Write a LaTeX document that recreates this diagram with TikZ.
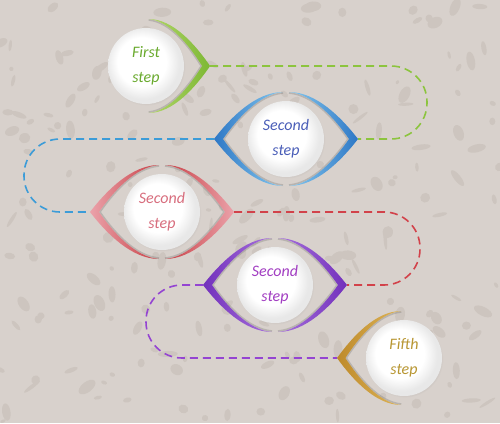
\documentclass[tikz,border=0pt]{standalone}
\usepackage{fontspec}
\setmainfont{Carlito}
\usetikzlibrary{shadows}

\definecolor{paper}{HTML}{D8D1CC}
\definecolor{speck}{HTML}{CDC5BF}
\definecolor{greenlight}{HTML}{B2D66A}
\definecolor{greendark}{HTML}{7DB834}
\definecolor{greenline}{HTML}{8CC43E}
\definecolor{greentext}{HTML}{6AAA2E}
\definecolor{bluelight}{HTML}{86C8EE}
\definecolor{bluedark}{HTML}{2E78C6}
\definecolor{blueline}{HTML}{3C9CD8}
\definecolor{bluetext}{HTML}{4A5EB8}
\definecolor{redlight}{HTML}{EBA2AA}
\definecolor{reddark}{HTML}{C84046}
\definecolor{redline}{HTML}{D2424A}
\definecolor{redtext}{HTML}{D86E7E}
\definecolor{purplelight}{HTML}{A872DC}
\definecolor{purpledark}{HTML}{7230BC}
\definecolor{purpleline}{HTML}{9444D2}
\definecolor{purpletext}{HTML}{A23EC2}
\definecolor{goldlight}{HTML}{DDB458}
\definecolor{golddark}{HTML}{BE8A2A}
\definecolor{goldtext}{HTML}{B89632}

\pgfdeclareradialshading{ball}{\pgfpoint{-4bp}{4bp}}{%
  color(0bp)=(white); color(16bp)=(white); color(24bp)=(black!9); color(50bp)=(black!9)}

\tikzset{
  stepball/.style={circle, minimum size=76pt, inner sep=0pt, align=center,
    shading=ball,
    circular drop shadow={shadow xshift=.8pt, shadow yshift=-1.2pt, opacity=.22, shadow scale=1.01},
    font=\itshape\fontsize{16}{25}\selectfont},
  link/.style={line width=1.6pt, dash pattern=on 8pt off 5pt, rounded corners=36pt},
  eyeshadow/.style={line width=1.6pt, black!60, opacity=.28},
}

% one half of an eye: centre, xscale (sign = side), left colour, right colour
\newcommand{\halfeye}[4]{%
  \begin{scope}[shift={(#1)}, xscale=#2]
    \draw[eyeshadow] (3,-46) .. controls (27,-44) and (48,-20) .. (62,0)
      .. controls (48,20) and (27,44) .. (3,46);
    \shade[left color=#3, right color=#4] (3,-47) .. controls (30,-47) and (55,-22) .. (72,0)
      .. controls (55,22) and (30,47) .. (3,47)
      .. controls (27,45) and (49,20) .. (63,0)
      .. controls (49,-20) and (27,-45) .. cycle;
  \end{scope}}

\begin{document}
\begin{tikzpicture}[x=1pt, y=-1pt]
  \useasboundingbox (0,0) rectangle (500,423);
  \fill[paper] (0,0) rectangle (500,423);

  % speckled paper
  \pgfmathsetseed{11}
  \foreach \i in {1,...,220}{
    \pgfmathsetmacro{\sx}{rnd*500}
    \pgfmathsetmacro{\sy}{rnd*423}
    \pgfmathsetmacro{\sa}{2+rnd*8}
    \pgfmathsetmacro{\sb}{1.5+rnd*4}
    \pgfmathsetmacro{\sr}{rnd*180}
    \fill[speck, rotate around={\sr:(\sx,\sy)}] (\sx,\sy) ellipse ({\sa pt} and {\sb pt});
  }

  % centres and tips
  \coordinate (c1) at (146,66);
  \coordinate (c2) at (286,139);
  \coordinate (c3) at (162,212);
  \coordinate (c4) at (275,285);
  \coordinate (c5) at (404,358);
  \coordinate (r1) at (210,66);
  \coordinate (l2) at (214,139); \coordinate (r2) at (358,139);
  \coordinate (l3) at (90,212);  \coordinate (r3) at (234,212);
  \coordinate (l4) at (203,285); \coordinate (r4) at (347,285);
  \coordinate (l5) at (337,358);

  % dashed links
  \draw[link, greenline] (r1) -- ++(217,0) |- (r2);
  \draw[link, blueline] (l2) -- ++(-190,0) |- (l3);
  \draw[link, redline] (r3) -- ++(186,0) |- (r4);
  \draw[link, purpleline] (l4) -- ++(-57,0) |- (l5);

  % eyes
  \halfeye{c1}{0.89}{greenlight}{greendark}
  \halfeye{c2}{-1}{bluedark}{bluelight}
  \halfeye{c2}{1}{bluelight}{bluedark}
  \halfeye{c3}{-1}{redlight}{reddark}
  \halfeye{c3}{1}{reddark}{redlight}
  \halfeye{c4}{-1}{purpledark}{purplelight}
  \halfeye{c4}{1}{purplelight}{purpledark}
  \halfeye{c5}{-0.93}{golddark}{goldlight}

  % steps
  \node[stepball, text=greentext] (first) at (c1) {First\\step};
  \node[stepball, text=bluetext] (second) at (c2) {Second\\step};
  \node[stepball, text=redtext] (third) at (c3) {Second\\step};
  \node[stepball, text=purpletext] (fourth) at (c4) {Second\\step};
  \node[stepball, text=goldtext] (fifth) at (c5) {Fifth\\step};
\end{tikzpicture}
\end{document}
